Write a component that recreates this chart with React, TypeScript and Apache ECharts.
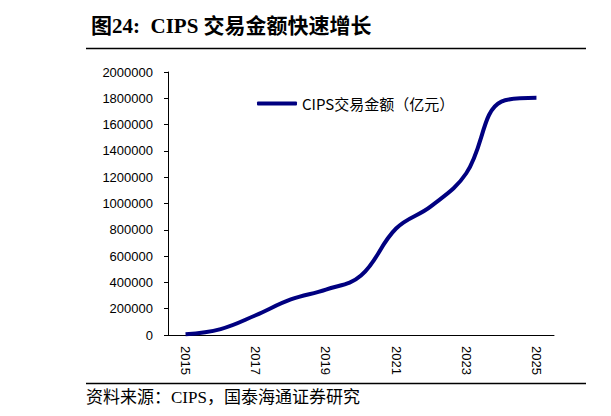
import * as echarts from 'echarts';
import { useEffect, useRef } from 'react';

// 年份（类目轴）
const years = ['2015', '2016', '2017', '2018', '2019', '2020', '2021', '2022', '2023', '2024', '2025'];
// CIPS 交易金额（亿元）
const amounts = [5000, 45000, 150000, 270000, 345000, 452000, 810000, 980000, 1230000, 1775000, 1805000];

const seriesName = 'CIPS交易金额（亿元）';
const titleText = '图24:  CIPS 交易金额快速增长';
const sourceText = '资料来源：CIPS，国泰海通证券研究';

const serifCJK = "'Liberation Serif', 'Noto Sans CJK SC', serif";
const sansFont = "'Liberation Sans', Arial, sans-serif";

const App = () => {
  const chartRef = useRef<HTMLDivElement>(null);

  useEffect(() => {
    if (!chartRef.current) return;
    const chart = echarts.init(chartRef.current, undefined, { renderer: 'svg' });

    chart.setOption({
      animation: false,
      backgroundColor: '#fff',
      title: {
        text: titleText,
        left: 86,
        top: 10,
        textStyle: {
          fontFamily: serifCJK,
          fontSize: 21,
          fontWeight: 'bold',
          color: '#000',
        },
      },
      legend: {
        data: [{ name: seriesName, icon: 'roundRect' }],
        left: 252,
        top: 91,
        itemWidth: 40,
        itemHeight: 4,
        itemGap: 0,
        textStyle: {
          fontFamily: "'Noto Sans CJK SC', sans-serif",
          fontSize: 15,
          color: '#000',
        },
      },
      grid: {
        left: 168,
        right: 57,
        top: 72,
        bottom: 81,
        outerBoundsMode: 'none',
        containLabel: false,
      },
      xAxis: {
        type: 'category',
        data: years,
        boundaryGap: true,
        axisLine: { lineStyle: { color: '#000', width: 1 } },
        axisTick: { interval: 1, length: 4, lineStyle: { color: '#000' } },
        axisLabel: {
          interval: 1,
          rotate: -90,
          margin: 11,
          fontFamily: sansFont,
          fontSize: 13,
          color: '#000',
        },
        splitLine: { show: false },
      },
      yAxis: {
        type: 'value',
        min: 0,
        max: 2000000,
        interval: 200000,
        axisLine: { show: true, lineStyle: { color: '#000', width: 1 } },
        axisTick: { show: true, length: 4, lineStyle: { color: '#000' } },
        axisLabel: {
          margin: 15,
          fontFamily: sansFont,
          fontSize: 13,
          color: '#000',
          formatter: (v: number) => String(v),
        },
        splitLine: { show: false },
      },
      series: [
        {
          name: seriesName,
          type: 'line',
          data: amounts,
          smooth: 0.4,
          symbol: 'none',
          lineStyle: { color: '#000080', width: 4 },
          itemStyle: { color: '#000080' },
        },
      ],
      graphic: [
        {
          type: 'line',
          shape: { x1: 86, y1: 48.5, x2: 586, y2: 48.5 },
          style: { stroke: '#000', lineWidth: 1.5 },
        },
        {
          type: 'line',
          shape: { x1: 86, y1: 383.5, x2: 586, y2: 383.5 },
          style: { stroke: '#000', lineWidth: 1.5 },
        },
        {
          type: 'text',
          x: 86,
          y: 397,
          style: {
            text: sourceText,
            fontFamily: serifCJK,
            fontSize: 17,
            fill: '#000',
            verticalAlign: 'middle',
          },
        },
      ],
    });

    return () => {
      chart.dispose();
    };
  }, []);

  return (
    <div
      ref={chartRef}
      style={{ position: 'absolute', left: 0, top: 0, width: 611, height: 416 }}
    ></div>
  );
};

export default App;
